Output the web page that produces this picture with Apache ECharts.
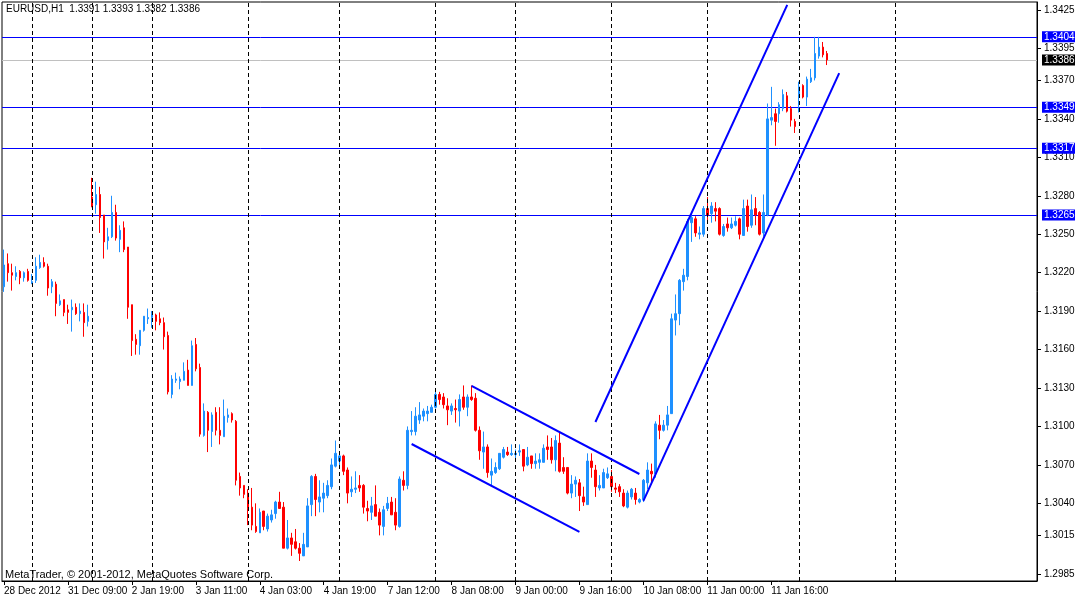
<!DOCTYPE html>
<html><head><meta charset="utf-8">
<script src="https://cdn.jsdelivr.net/npm/echarts/dist/echarts.min.js"></script>
<style>html,body{margin:0;padding:0;background:#fff}#c{width:1075px;height:599px}</style>
</head><body><div id="c"></div>
<script>
const symbolName = 'EURUSD,H1';
const footerText = 'MetaTrader, \u00a9 2001-2012, MetaQuotes Software Corp.';

const opens = [
1.3209,1.3227,1.3220,1.3217,1.3221,1.3216,1.3221,1.3212,1.3214,1.3224,
1.3228,1.3225,1.3209,1.3211,1.3195,1.3199,1.3191,1.3191,1.3193,1.3188,
1.3189,1.3182,1.3279,1.3273,1.3281,1.3265,1.3245,1.3248,1.3267,1.3246,
1.3255,1.3240,1.3195,1.3168,1.3163,1.3175,1.3184,1.3185,1.3187,1.3184,
1.3181,1.3171,1.3125,1.3136,1.3135,1.3136,1.3144,1.3132,1.3164,1.3146,
1.3093,1.3111,1.3096,1.3111,1.3097,1.3092,1.3107,1.3110,1.3104,1.3061,
1.3054,1.3048,1.3037,1.3022,1.3017,1.3034,1.3020,1.3027,1.3032,1.3041,
1.3037,1.3005,1.3013,1.3010,1.3005,1.2999,1.3006,1.3039,1.3061,1.3041,
1.3044,1.3046,1.3053,1.3069,1.3073,1.3077,1.3066,1.3049,1.3051,1.3054,
1.3054,1.3036,1.3033,1.3039,1.3033,1.3022,1.3036,1.3041,1.3033,1.3022,
1.3058,1.3054,1.3096,1.3096,1.3105,1.3108,1.3110,1.3111,1.3115,1.3125,
1.3123,1.3116,1.3112,1.3114,1.3112,1.3123,1.3115,1.3123,1.3122,1.3097,
1.3080,1.3084,1.3062,1.3064,1.3067,1.3076,1.3080,1.3078,1.3078,1.3080,
1.3082,1.3070,1.3077,1.3071,1.3072,1.3072,1.3084,1.3084,1.3074,1.3087,
1.3068,1.3068,1.3048,1.3055,1.3056,1.3045,1.3039,1.3073,1.3066,1.3052,
1.3052,1.3060,1.3061,1.3052,1.3053,1.3048,1.3037,1.3045,1.3048,1.3041,
1.3043,1.3056,1.3065,1.3063,1.3101,1.3097,1.3101,1.3110,1.3183,1.3188,
1.3213,1.3217,1.3259,1.3262,1.3250,1.3250,1.3270,1.3266,1.3270,1.3270,
1.3249,1.3258,1.3255,1.3257,1.3262,1.3249,1.3272,1.3257,1.3270,1.3267,
1.3251,1.3265,1.3339,1.3344,1.3344,1.3348,1.3358,1.3348,1.3338,1.3359,
1.3366,1.3357,1.3369,1.3372,1.3389,1.3396,1.3391];

const highs = [
1.3238,1.3235,1.3227,1.3225,1.3222,1.3221,1.3223,1.3219,1.3232,1.3234,
1.3232,1.3227,1.3215,1.3213,1.3203,1.3199,1.3195,1.3199,1.3196,1.3196,
1.3196,1.3195,1.3294,1.3291,1.3287,1.3265,1.3255,1.3280,1.3273,1.3257,
1.3260,1.3240,1.3195,1.3172,1.3175,1.3186,1.3192,1.3190,1.3188,1.3189,
1.3185,1.3174,1.3140,1.3142,1.3139,1.3150,1.3152,1.3167,1.3169,1.3149,
1.3118,1.3112,1.3111,1.3115,1.3115,1.3121,1.3114,1.3111,1.3105,1.3064,
1.3054,1.3051,1.3052,1.3040,1.3036,1.3034,1.3032,1.3035,1.3042,1.3049,
1.3041,1.3027,1.3017,1.3020,1.3009,1.3017,1.3044,1.3062,1.3063,1.3058,
1.3056,1.3058,1.3075,1.3089,1.3080,1.3078,1.3068,1.3061,1.3065,1.3062,
1.3055,1.3042,1.3045,1.3054,1.3036,1.3038,1.3045,1.3045,1.3044,1.3061,
1.3065,1.3100,1.3112,1.3115,1.3119,1.3114,1.3116,1.3117,1.3127,1.3127,
1.3126,1.3122,1.3118,1.3121,1.3125,1.3132,1.3125,1.3132,1.3126,1.3100,
1.3096,1.3086,1.3075,1.3072,1.3079,1.3084,1.3084,1.3086,1.3082,1.3086,
1.3082,1.3084,1.3077,1.3079,1.3079,1.3086,1.3093,1.3091,1.3093,1.3095,
1.3076,1.3068,1.3062,1.3061,1.3059,1.3053,1.3079,1.3079,1.3070,1.3062,
1.3067,1.3068,1.3066,1.3056,1.3055,1.3051,1.3050,1.3052,1.3052,1.3044,
1.3059,1.3072,1.3071,1.3104,1.3109,1.3105,1.3116,1.3188,1.3203,1.3215,
1.3223,1.3262,1.3266,1.3264,1.3256,1.3272,1.3279,1.3275,1.3275,1.3271,
1.3258,1.3263,1.3263,1.3264,1.3263,1.3277,1.3277,1.3281,1.3279,1.3268,
1.3281,1.3352,1.3365,1.3348,1.3353,1.3363,1.3361,1.3350,1.3340,1.3369,
1.3367,1.3373,1.3379,1.3404,1.3404,1.3400,1.3393];

const lows = [
1.3205,1.3213,1.3206,1.3214,1.3211,1.3213,1.3213,1.3211,1.3212,1.3223,
1.3224,1.3202,1.3204,1.3186,1.3194,1.3186,1.3180,1.3174,1.3187,1.3182,
1.3170,1.3178,1.3271,1.3266,1.3251,1.3231,1.3238,1.3247,1.3245,1.3236,
1.3236,1.3184,1.3155,1.3156,1.3156,1.3174,1.3180,1.3177,1.3175,1.3179,
1.3160,1.3125,1.3122,1.3134,1.3129,1.3136,1.3132,1.3132,1.3143,1.3092,
1.3092,1.3080,1.3084,1.3093,1.3086,1.3092,1.3103,1.3103,1.3054,1.3046,
1.3044,1.3023,1.3019,1.3017,1.3017,1.3019,1.3018,1.3025,1.3028,1.3036,
1.3005,1.3004,1.2999,1.3004,1.2995,1.2999,1.3006,1.3030,1.3030,1.3033,
1.3033,1.3044,1.3051,1.3068,1.3067,1.3062,1.3040,1.3045,1.3048,1.3049,
1.3032,1.3026,1.3027,1.3030,1.3015,1.3015,1.3034,1.3031,1.3019,1.3021,
1.3050,1.3051,1.3093,1.3093,1.3102,1.3104,1.3104,1.3111,1.3114,1.3117,
1.3114,1.3101,1.3109,1.3103,1.3100,1.3113,1.3108,1.3120,1.3096,1.3074,
1.3067,1.3060,1.3054,1.3063,1.3066,1.3075,1.3077,1.3077,1.3074,1.3077,
1.3065,1.3069,1.3067,1.3067,1.3067,1.3072,1.3074,1.3071,1.3065,1.3064,
1.3063,1.3047,1.3044,1.3045,1.3034,1.3038,1.3039,1.3060,1.3045,1.3050,
1.3052,1.3059,1.3049,1.3048,1.3045,1.3037,1.3036,1.3043,1.3039,1.3040,
1.3041,1.3051,1.3056,1.3060,1.3090,1.3096,1.3097,1.3110,1.3171,1.3179,
1.3206,1.3214,1.3244,1.3248,1.3246,1.3248,1.3259,1.3259,1.3260,1.3249,
1.3248,1.3252,1.3254,1.3256,1.3246,1.3249,1.3252,1.3255,1.3257,1.3249,
1.3248,1.3264,1.3335,1.3319,1.3337,1.3346,1.3345,1.3334,1.3329,1.3345,
1.3356,1.3350,1.3368,1.3370,1.3387,1.3388,1.3382];

const closes = [
1.3226,1.3220,1.3218,1.3220,1.3216,1.3220,1.3214,1.3213,1.3225,1.3228,
1.3225,1.3208,1.3213,1.3196,1.3198,1.3189,1.3189,1.3193,1.3188,1.3190,
1.3181,1.3186,1.3272,1.3281,1.3263,1.3244,1.3248,1.3267,1.3247,1.3253,
1.3238,1.3193,1.3167,1.3164,1.3175,1.3186,1.3185,1.3188,1.3182,1.3181,
1.3170,1.3127,1.3137,1.3137,1.3137,1.3143,1.3132,1.3163,1.3145,1.3094,
1.3112,1.3097,1.3109,1.3097,1.3093,1.3108,1.3109,1.3105,1.3058,1.3052,
1.3047,1.3036,1.3023,1.3018,1.3033,1.3022,1.3030,1.3031,1.3041,1.3036,
1.3005,1.3013,1.3008,1.3005,1.3001,1.3008,1.3038,1.3061,1.3043,1.3045,
1.3048,1.3054,1.3070,1.3079,1.3077,1.3065,1.3048,1.3051,1.3052,1.3052,
1.3037,1.3034,1.3038,1.3030,1.3023,1.3035,1.3040,1.3031,1.3023,1.3059,
1.3054,1.3097,1.3097,1.3108,1.3109,1.3112,1.3112,1.3115,1.3125,1.3121,
1.3117,1.3113,1.3116,1.3113,1.3121,1.3115,1.3123,1.3121,1.3097,1.3081,
1.3084,1.3064,1.3065,1.3068,1.3079,1.3082,1.3078,1.3079,1.3079,1.3081,
1.3069,1.3076,1.3071,1.3073,1.3074,1.3083,1.3082,1.3074,1.3089,1.3065,
1.3065,1.3048,1.3055,1.3058,1.3046,1.3041,1.3073,1.3068,1.3053,1.3054,
1.3064,1.3063,1.3053,1.3051,1.3049,1.3038,1.3048,1.3051,1.3043,1.3043,
1.3058,1.3066,1.3063,1.3102,1.3097,1.3101,1.3109,1.3184,1.3188,1.3214,
1.3218,1.3260,1.3263,1.3251,1.3251,1.3270,1.3265,1.3272,1.3268,1.3250,
1.3256,1.3255,1.3258,1.3260,1.3250,1.3270,1.3256,1.3269,1.3265,1.3250,
1.3267,1.3340,1.3341,1.3338,1.3351,1.3359,1.3346,1.3339,1.3334,1.3365,
1.3357,1.3371,1.3372,1.3391,1.3396,1.3390,1.3386];

// time labels shown every 16 bars
const tickEvery = 16;
const tickLabels = ['28 Dec 2012','31 Dec 09:00','2 Jan 19:00','3 Jan 11:00','4 Jan 03:00','4 Jan 19:00',
  '7 Jan 12:00','8 Jan 08:00','9 Jan 00:00','9 Jan 16:00','10 Jan 08:00','11 Jan 00:00','11 Jan 16:00'];
// price scale labels
const priceLabels = [1.3425,1.3395,1.3370,1.3340,1.3310,1.3280,1.3250,1.3220,1.3190,1.3160,1.3130,1.3100,1.3070,1.3040,1.3015,1.2985];
const priceMin = 1.29794, priceMax = 1.34312;
// horizontal levels
const levelPrices = [1.3404, 1.3349, 1.3317, 1.3265];
const bidPrice = 1.3386;
// bars on which the vertical period separators fall
const separatorBars = [7, 22, 37, 61, 84, 108, 128, 152, 176, 199, 223];
// trendlines: [bar1, price1, bar2, price2]
const trendlines = [
  [102, 1.30863, 144, 1.30177],
  [117, 1.31317, 159, 1.30629],
  [148, 1.31035, 196, 1.34290],
  [160, 1.30419, 209, 1.33757]
];
const totalSlots = 259;

const FONT = '"Liberation Sans", sans-serif';
const BLUE = '#0000FF';
const categories = Array.from({length: totalSlots}, (_, i) => String(i));
const candleData = opens.map((o, i) => [o, closes[i], lows[i], highs[i]]);
const last = opens.length - 1;
const header = symbolName + '  ' + [opens[last], highs[last], lows[last], closes[last]].map(v => v.toFixed(4)).join(' ');
const isTick = i => i % tickEvery === 0 && i / tickEvery < tickLabels.length;

const sepData = separatorBars.map(b => ({xAxis: b, lineStyle: {color: '#000', width: 1, type: [4, 3]}, label: {show: false}}));
const trendData = trendlines.map(t => [
  {coord: [t[0], t[1]], lineStyle: {color: BLUE, width: 2, type: 'solid'}, label: {show: false}},
  {coord: [t[2], t[3]]}
]);

function levelAxis(values, lineColor, boxColor) {
  return {
    type: 'value', position: 'right', min: priceMin, max: priceMax, scale: true,
    axisLine: {show: false},
    axisTick: {show: false, customValues: values},
    axisLabel: {customValues: values, formatter: v => v.toFixed(4), color: '#fff', backgroundColor: boxColor,
      padding: [1, 2, 0, 2], fontSize: 10, fontFamily: FONT, margin: 5, overflow: 'none', width: 40},
    splitLine: {show: true, lineStyle: {color: lineColor, width: 1, type: 'solid'}}
  };
}

const chart = echarts.init(document.getElementById('c'), null, {renderer: 'canvas'});
chart.setOption({
  animation: false,
  backgroundColor: '#fff',
  title: [
    {text: header, left: 6, top: 4, padding: 0, textStyle: {fontSize: 10, fontWeight: 'normal', color: '#000', fontFamily: FONT}},
    {text: footerText, left: 5, top: 569, padding: 0, textStyle: {fontSize: 11, fontWeight: 'normal', color: '#000', fontFamily: FONT}}
  ],
  grid: {left: 2, right: 38, top: 2, bottom: 18, show: true, borderColor: '#000', borderWidth: 1,
    containLabel: false, outerBoundsMode: 'none'},
  xAxis: {
    type: 'category', data: categories, boundaryGap: true,
    axisLine: {show: true, lineStyle: {color: '#000', width: 1}},
    axisTick: {show: true, alignWithLabel: true, interval: (i) => isTick(i), length: 4, lineStyle: {color: '#000'}},
    axisLabel: {interval: (i) => isTick(i), formatter: (v, i) => isTick(i) ? tickLabels[i / tickEvery] : '',
      align: 'left', color: '#000', fontSize: 10, fontFamily: FONT, margin: 5},
    splitLine: {show: false}
  },
  yAxis: [
    {
      type: 'value', position: 'right', min: priceMin, max: priceMax, scale: true,
      axisLine: {show: true, lineStyle: {color: '#000', width: 1}},
      axisTick: {show: true, customValues: priceLabels, length: 4, lineStyle: {color: '#000'}},
      axisLabel: {customValues: priceLabels, formatter: v => v.toFixed(4), color: '#000', fontSize: 10, fontFamily: FONT, margin: 7},
      splitLine: {show: false}
    },
    levelAxis([bidPrice], '#C0C0C0', '#000'),
    levelAxis(levelPrices, BLUE, BLUE)
  ],
  series: [
    {
      type: 'candlestick', data: candleData, barWidth: 2, z: 2, yAxisIndex: 0,
      itemStyle: {color: '#1E90FF', color0: '#FF0000', borderColor: '#1E90FF', borderColor0: '#FF0000', borderWidth: 1},
      markLine: {symbol: ['none', 'none'], precision: 5, silent: true, animation: false, data: sepData.concat(trendData)}
    }
  ]
});
</script>
</body></html>
